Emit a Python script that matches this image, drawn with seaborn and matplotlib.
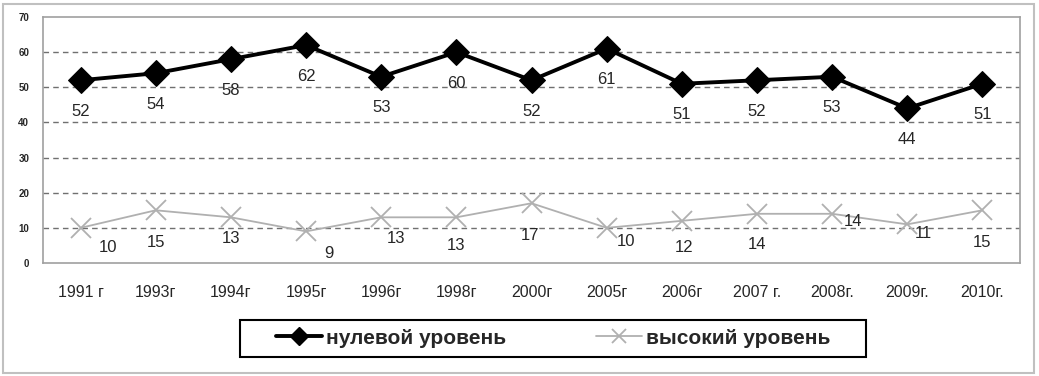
import pandas as pd
import seaborn as sns
import matplotlib.pyplot as plt
from matplotlib.patches import Rectangle
from matplotlib.lines import Line2D
from matplotlib import font_manager

# Data
years = ['1991 г', '1993г', '1994г', '1995г', '1996г', '1998г', '2000г',
         '2005г', '2006г', '2007 г.', '2008г.', '2009г.', '2010г.']
zero_level = [52, 54, 58, 62, 53, 60, 52, 61, 51, 52, 53, 44, 51]
high_level = [10, 15, 13, 9, 13, 13, 17, 10, 12, 14, 14, 11, 15]

# label offsets for the grey series (pixels, dx, dy downwards)
high_dx = [27, 0, 0, 23, 15, 0, -2, 19, 2, 0, 21, 16, 0]
high_dy = [20, 32, 21, 22, 21, 28, 32, 14, 27, 31, 8, 9, 32]

names = {f.name for f in font_manager.fontManager.ttflist}
narrow = 'Liberation Sans Narrow' if 'Liberation Sans Narrow' in names else 'Liberation Sans'

sns.set_style('white')
plt.rcParams['font.family'] = ['Liberation Sans', 'DejaVu Sans']

df = pd.DataFrame({'year': years, 'zero': zero_level, 'high': high_level})

fig = plt.figure(figsize=(10.39, 3.76), dpi=100)
ax = fig.add_axes([43 / 1039, 113 / 376, 977 / 1039, 246 / 376])

# outer chart border
fig.patches.append(Rectangle((3 / 1039, 3 / 376), 1031 / 1039, 369 / 376,
                             transform=fig.transFigure, fill=False,
                             edgecolor='#c0c0c0', linewidth=1.5))
# legend frame
fig.patches.append(Rectangle((240 / 1039, 19 / 376), 626 / 1039, 37 / 376,
                             transform=fig.transFigure, fill=False,
                             edgecolor='black', linewidth=1.5))

for v in range(10, 70, 10):
    ax.axhline(v, color='#707070', linestyle=(0, (4, 3)), linewidth=1, zorder=0)

sns.lineplot(data=df, x='year', y='high', sort=False, ax=ax, color='#b0b0b0',
             linewidth=1.3, marker='x', markersize=14, markeredgewidth=1.3,
             markeredgecolor='#b0b0b0')
sns.lineplot(data=df, x='year', y='zero', sort=False, ax=ax, color='black',
             linewidth=2.8, marker='D', markersize=13, markeredgecolor='black')

for i, v in enumerate(zero_level):
    ax.annotate(str(v), (i, v), xytext=(0, -31), textcoords='offset pixels',
                ha='center', va='center', fontsize=12)
for i, v in enumerate(high_level):
    ax.annotate(str(v), (i, v), xytext=(high_dx[i], -high_dy[i]),
                textcoords='offset pixels', ha='center', va='center', fontsize=12)

ax.set_xlim(-0.5, len(years) - 0.5)
ax.set_ylim(0, 70)
ax.set_yticks(range(0, 80, 10))
ax.set_yticklabels([str(v) for v in range(0, 80, 10)], fontsize=7,
                   fontweight='bold')
ax.set_xticks(range(len(years)))
ax.set_xticklabels(years, fontsize=11.5, family=[narrow, 'DejaVu Sans'])
ax.set_xticks([i - 0.5 for i in range(len(years) + 1)], minor=True)
ax.tick_params(axis='x', which='major', length=0, pad=16)
ax.tick_params(axis='x', which='minor', length=5, color='#909090', width=1,
               direction='out')
ax.tick_params(axis='y', length=4, color='#909090', width=1, direction='out',
               pad=6)
ax.set_xlabel('')
ax.set_ylabel('')
ax.get_legend() and ax.get_legend().remove()
for s in ax.spines.values():
    s.set_color('#a0a0a0')
    s.set_linewidth(1.2)

handles = [
    Line2D([], [], color='black', linewidth=2.8, marker='D', markersize=9),
    Line2D([], [], color='#b0b0b0', linewidth=1.3, marker='x', markersize=10,
           markeredgewidth=1.3),
]
leg = fig.legend(handles, ['нулевой уровень', 'высокий уровень'],
                 loc='center', bbox_to_anchor=(553.5 / 1039, 1 - 338 / 376),
                 ncol=2, frameon=False, handlelength=2.2,
                 columnspacing=4.3, handletextpad=0.2, borderaxespad=0,
                 prop={'family': [narrow, 'DejaVu Sans'], 'weight': 'bold',
                       'size': 15})

plt.savefig('out.png', dpi=100)
